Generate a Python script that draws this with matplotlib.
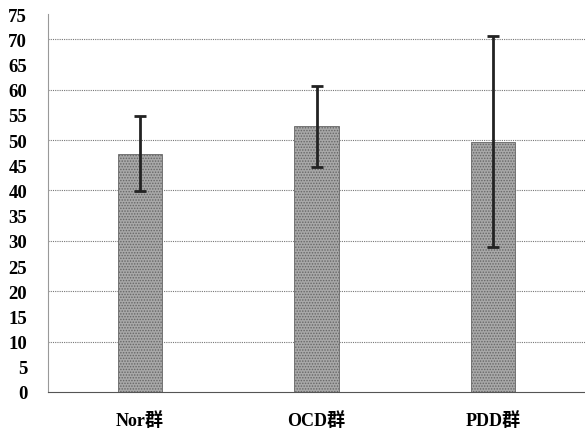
import matplotlib
matplotlib.use("Agg")
import matplotlib.pyplot as plt
import numpy as np

# data
groups = ["Nor群", "OCD群", "PDD群"]
means = [47.3, 52.7, 49.7]
errs = [7.5, 8.0, 21.0]
yticks = list(range(0, 80, 5))

plt.rcParams['font.family'] = ['Liberation Serif', 'Noto Sans CJK JP']
plt.rcParams['hatch.color'] = '#555555'
plt.rcParams['hatch.linewidth'] = 0.7

fig = plt.figure(figsize=(5.85, 4.35), dpi=100)
ax = fig.add_axes([48 / 585, 42 / 435, 537 / 585, 378 / 435])

x = np.arange(len(groups))
ax.bar(x, means, width=0.25, color='#a8a8a8', edgecolor='#666666',
       linewidth=0.6, hatch='......', zorder=2)
ax.errorbar(x, means, yerr=errs, fmt='none', ecolor='#222222',
            elinewidth=2, capsize=4, capthick=2, zorder=3)

ax.set_xlim(-0.52, 2.52)
ax.set_ylim(0, 75)
ax.set_yticks(yticks)
ax.set_yticklabels([str(v) for v in yticks], fontsize=13.5, fontweight='bold')
ax.set_xticks(x)
ax.set_xticklabels(groups, fontsize=13, fontweight='bold')
ax.tick_params(axis='both', length=0)
ax.tick_params(axis='y', pad=15)
ax.tick_params(axis='x', pad=14)

for v in range(10, 80, 10):
    ax.axhline(v, color='#777777', linestyle=(0, (1, 1)), linewidth=0.8, zorder=1)

for s in ['top', 'right']:
    ax.spines[s].set_visible(False)
ax.spines['left'].set_linestyle((0, (1, 1)))
ax.spines['left'].set_color('#999999')
ax.spines['bottom'].set_linestyle((0, (2, 1)))
ax.spines['bottom'].set_color('#555555')

fig.savefig("out.png", dpi=100)
